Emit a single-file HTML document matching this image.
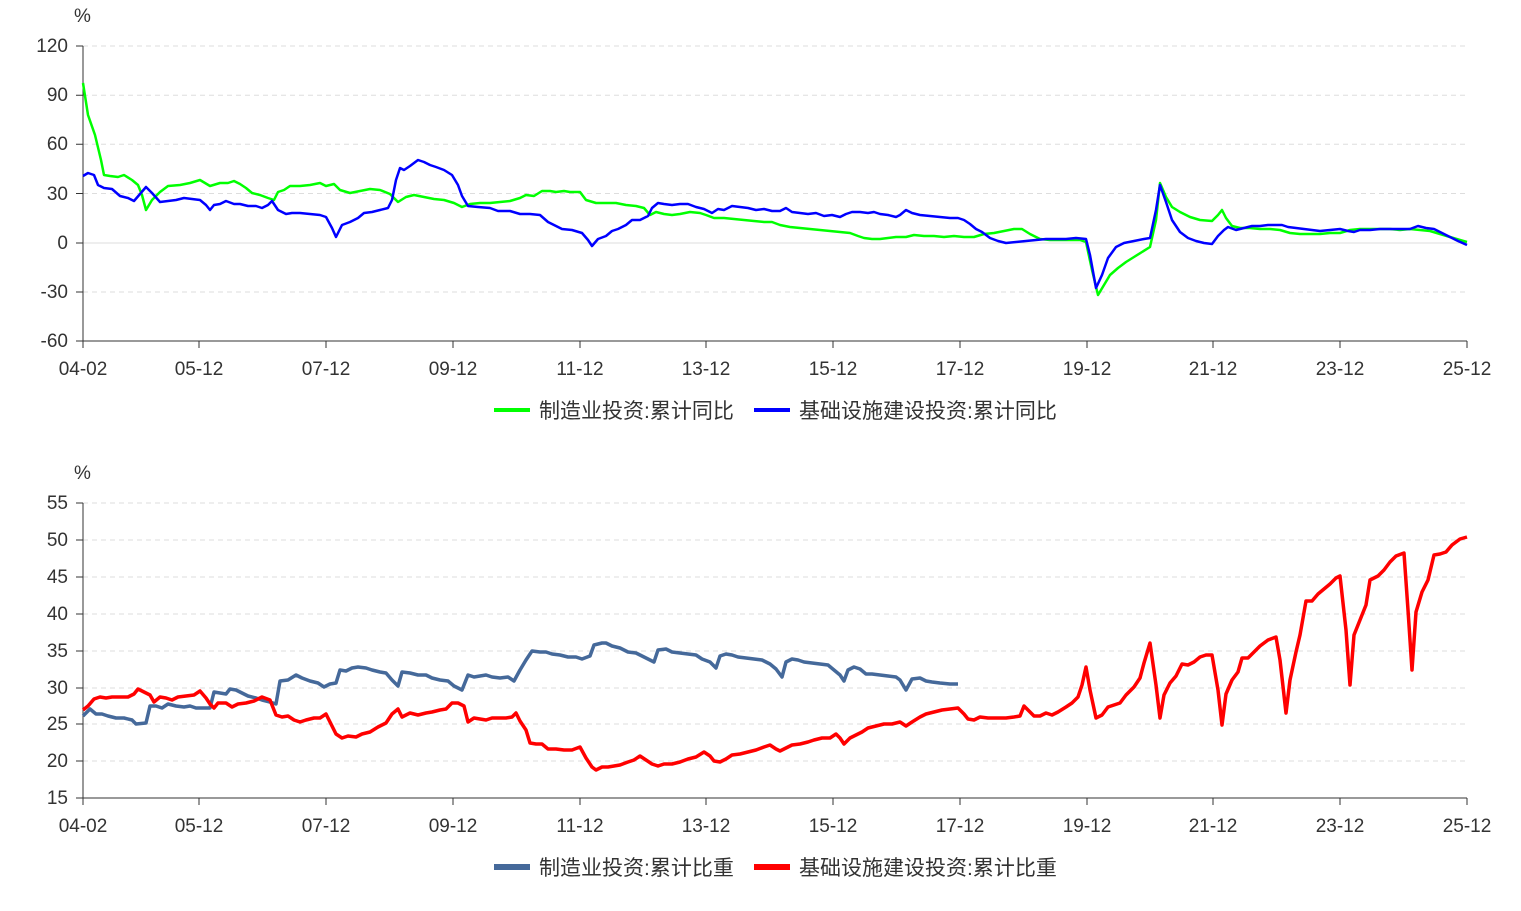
<!DOCTYPE html>
<html><head><meta charset="utf-8"><style>
body{margin:0;background:#fff}
svg text{font-family:"Liberation Sans","Noto Sans CJK SC",sans-serif;fill:#333}
</style></head><body>
<svg width="1521" height="906" viewBox="0 0 1521 906" xmlns="http://www.w3.org/2000/svg">
<g stroke="#ddd" stroke-dasharray="5,4" stroke-width="1">
<line x1="83" x2="1467" y1="46" y2="46"/><line x1="83" x2="1467" y1="95.2" y2="95.2"/><line x1="83" x2="1467" y1="144.3" y2="144.3"/><line x1="83" x2="1467" y1="193.5" y2="193.5"/><line x1="83" x2="1467" y1="292" y2="292"/>
<line x1="83" x2="1467" y1="503" y2="503"/><line x1="83" x2="1467" y1="540" y2="540"/><line x1="83" x2="1467" y1="577" y2="577"/><line x1="83" x2="1467" y1="614" y2="614"/><line x1="83" x2="1467" y1="651" y2="651"/><line x1="83" x2="1467" y1="688" y2="688"/><line x1="83" x2="1467" y1="724" y2="724"/><line x1="83" x2="1467" y1="761" y2="761"/>
</g>
<line x1="83" x2="1467" y1="243" y2="243" stroke="#ddd"/>
<g stroke="#333" stroke-width="1">
<line x1="83" x2="83" y1="46" y2="341"/><line x1="83" x2="1467" y1="341" y2="341"/>
<line x1="83" x2="83" y1="503" y2="798"/><line x1="83" x2="1467" y1="798" y2="798"/>
<path d="M76 46h7M76 95.2h7M76 144.3h7M76 193.5h7M76 243h7M76 292h7M76 341h7"/>
<path d="M76 503h7M76 540h7M76 577h7M76 614h7M76 651h7M76 688h7M76 724h7M76 761h7M76 798h7"/>
<path d="M83 341v7M199 341v7M326 341v7M453 341v7M580 341v7M706 341v7M833 341v7M960 341v7M1087 341v7M1213 341v7M1340 341v7M1467 341v7"/>
<path d="M83 798v7M199 798v7M326 798v7M453 798v7M580 798v7M706 798v7M833 798v7M960 798v7M1087 798v7M1213 798v7M1340 798v7M1467 798v7"/>
</g>
<g font-size="19" text-anchor="end">
<text x="68" y="52">120</text><text x="68" y="101">90</text><text x="68" y="150">60</text><text x="68" y="200">30</text><text x="68" y="249">0</text><text x="68" y="298">-30</text><text x="68" y="347">-60</text>
<text x="68" y="509">55</text><text x="68" y="546">50</text><text x="68" y="583">45</text><text x="68" y="620">40</text><text x="68" y="657">35</text><text x="68" y="694">30</text><text x="68" y="730">25</text><text x="68" y="767">20</text><text x="68" y="804">15</text>
</g>
<text x="74" y="22" font-size="19">%</text><text x="74" y="479" font-size="19">%</text>
<g font-size="19" text-anchor="middle">
<text x="83" y="375">04-02</text><text x="199" y="375">05-12</text><text x="326" y="375">07-12</text><text x="453" y="375">09-12</text><text x="580" y="375">11-12</text><text x="706" y="375">13-12</text><text x="833" y="375">15-12</text><text x="960" y="375">17-12</text><text x="1087" y="375">19-12</text><text x="1213" y="375">21-12</text><text x="1340" y="375">23-12</text><text x="1467" y="375">25-12</text>
<text x="83" y="832">04-02</text><text x="199" y="832">05-12</text><text x="326" y="832">07-12</text><text x="453" y="832">09-12</text><text x="580" y="832">11-12</text><text x="706" y="832">13-12</text><text x="833" y="832">15-12</text><text x="960" y="832">17-12</text><text x="1087" y="832">19-12</text><text x="1213" y="832">21-12</text><text x="1340" y="832">23-12</text><text x="1467" y="832">25-12</text>
</g>
<g fill="none" stroke-width="2.5" stroke-linejoin="round">
<polyline stroke="#00ff00" points="83,83 88,115 95,135 101,160 104,175 110,176 118,177 124,175 132,180 138,185 142,195 146,210 152,200 160,192 168,186 180,185 190,183 200,180 210,186 220,183 228,183 234,181 240,184 246,188 252,193 260,195 268,198 274,200 278,192 284,190 290,186 300,186 310,185 320,183 326,186 334,184 340,190 350,193 360,191 370,189 380,190 390,194 398,202 406,197 414,195 424,197 434,199 444,200 454,203 462,207 470,204 480,203 490,203 500,202 510,201 520,198 526,195 534,196 542,191 550,191 556,192 564,191 570,192 580,192 586,200 596,203 606,203 616,203 626,205 636,206 644,208 650,215 656,212 664,214 672,215 680,214 690,212 700,213 706,215 714,218 724,218 734,219 744,220 754,221 764,222 772,222 780,225 790,227 800,228 810,229 820,230 830,231 840,232 850,233 858,236 864,238 872,239 880,239 888,238 896,237 906,237 914,235 924,236 934,236 944,237 954,236 964,237 974,237 984,234 994,233 1004,231 1014,229 1022,229 1030,234 1040,239 1050,240 1060,240 1070,240 1080,240 1086,242 1092,270 1098,295 1104,285 1110,275 1118,268 1126,262 1134,257 1142,252 1150,247 1156,220 1160,183 1166,197 1172,207 1180,212 1190,217 1200,220 1212,221 1218,215 1222,210 1226,218 1232,226 1240,228 1250,228 1260,229 1270,229 1280,230 1290,233 1300,234 1310,234 1320,234 1330,233 1340,233 1350,230 1360,229 1370,229 1380,229 1390,229 1400,230 1410,229 1420,230 1430,231 1440,234 1450,237 1460,240 1467,242"/>
<polyline stroke="#0000ff" points="83,176 88,173 94,175 98,185 104,188 112,189 120,196 128,198 134,201 140,194 146,187 152,193 160,202 168,201 176,200 184,198 192,199 200,200 206,205 210,210 214,205 220,204 226,201 234,204 240,204 248,206 256,206 262,208 268,205 272,201 278,210 286,214 292,213 300,213 310,214 320,215 326,217 332,228 336,237 342,225 350,222 358,218 364,213 372,212 380,210 388,208 392,200 396,180 400,168 404,170 410,166 418,160 424,162 430,165 436,167 444,170 452,175 458,185 462,196 468,206 478,207 490,208 498,211 510,211 520,214 530,214 540,215 548,222 556,226 562,229 572,230 582,233 588,240 592,246 598,239 606,236 612,231 618,229 626,225 632,220 640,220 648,216 652,208 658,203 664,204 672,205 680,204 688,204 696,207 704,209 712,213 718,209 724,210 732,206 740,207 748,208 756,210 764,209 772,211 780,211 786,208 792,212 800,213 808,214 816,213 824,216 832,215 840,217 846,214 852,212 860,212 868,213 874,212 880,214 888,215 896,217 900,215 906,210 912,213 920,215 930,216 940,217 950,218 958,218 964,220 970,224 976,229 982,232 990,238 998,241 1006,243 1016,242 1026,241 1036,240 1046,239 1056,239 1066,239 1076,238 1086,239 1090,255 1096,288 1102,275 1108,258 1116,247 1124,243 1134,241 1144,239 1150,238 1156,210 1160,185 1166,202 1172,220 1180,232 1188,238 1196,241 1204,243 1212,244 1218,236 1224,230 1228,227 1236,230 1244,228 1252,226 1260,226 1268,225 1276,225 1282,225 1288,227 1296,228 1304,229 1312,230 1320,231 1330,230 1340,229 1348,231 1354,232 1360,230 1370,230 1380,229 1390,229 1400,229 1410,229 1418,226 1426,228 1434,229 1442,233 1450,237 1458,241 1467,245"/>
<polyline stroke="#45699a" stroke-width="3.5" points="83,716 90,709 96,714 102,714 108,716 116,718 124,718 132,720 136,724 146,723 150,706 156,706 162,708 168,704 176,706 184,707 190,706 196,708 204,708 210,708 214,692 220,693 226,694 230,689 236,690 240,692 248,696 256,698 262,700 270,702 276,704 280,681 288,680 296,675 302,678 310,681 318,683 324,687 330,684 336,683 340,670 346,671 352,668 358,667 366,668 372,670 380,672 386,673 392,680 398,686 402,672 410,673 418,675 426,675 432,678 440,680 448,681 454,686 462,690 468,675 474,677 480,676 486,675 492,677 500,678 508,677 514,681 520,670 526,660 532,651 540,652 546,652 552,654 560,655 568,657 576,657 582,659 590,656 594,645 602,643 606,643 612,646 620,648 628,652 636,653 646,658 654,662 658,650 666,649 672,652 680,653 688,654 696,655 702,659 710,662 716,668 720,656 726,654 732,655 738,657 746,658 754,659 762,660 770,664 776,669 782,677 786,662 792,659 798,660 804,662 812,663 820,664 828,665 834,670 840,675 844,681 848,670 854,667 860,669 866,674 872,674 880,675 888,676 896,677 900,680 906,690 912,679 920,678 926,681 932,682 940,683 950,684 958,684"/>
<polyline stroke="#ff0000" stroke-width="3.5" points="83,710 88,706 94,699 100,697 106,698 112,697 120,697 128,697 134,694 138,689 144,692 150,695 154,702 160,697 166,698 172,700 178,697 186,696 194,695 200,691 206,698 210,704 214,708 218,703 226,703 232,707 238,704 246,703 254,701 262,697 270,700 276,715 282,717 288,716 294,720 300,722 306,720 314,718 320,718 326,714 330,722 336,734 342,738 348,736 356,737 362,734 370,732 378,727 386,723 392,714 398,709 402,717 410,713 418,715 426,713 432,712 440,710 446,709 452,703 458,703 464,706 468,722 474,718 480,719 486,720 492,718 500,718 506,718 512,717 516,713 520,721 526,730 530,743 536,744 542,744 548,749 556,749 564,750 572,750 580,747 586,758 592,767 596,770 602,767 608,767 614,766 620,765 628,762 634,760 640,756 646,760 652,764 658,766 664,764 672,764 680,762 688,759 696,757 704,752 710,756 714,761 720,762 726,759 732,755 740,754 748,752 756,750 764,747 770,745 776,749 780,751 786,748 792,745 800,744 808,742 814,740 822,738 830,738 836,734 840,738 844,744 850,738 856,735 862,732 868,728 876,726 884,724 892,724 900,722 906,726 912,722 920,717 926,714 934,712 942,710 950,709 958,708 964,714 968,719 974,720 980,717 988,718 996,718 1006,718 1014,717 1020,716 1024,706 1028,710 1034,716 1040,716 1046,713 1052,715 1058,712 1066,707 1072,703 1078,697 1082,685 1086,667 1090,690 1096,718 1102,715 1108,707 1114,705 1120,703 1126,695 1134,687 1140,678 1144,663 1150,643 1156,685 1160,718 1164,695 1170,683 1176,676 1182,664 1188,665 1194,662 1200,657 1206,655 1212,655 1218,690 1222,725 1226,694 1232,680 1238,672 1242,658 1248,658 1254,652 1260,646 1268,640 1276,637 1280,660 1286,713 1290,680 1296,652 1300,635 1306,601 1312,601 1318,594 1324,589 1330,584 1336,578 1340,576 1346,630 1350,685 1354,635 1360,620 1366,605 1370,580 1378,576 1384,570 1390,562 1396,556 1404,553 1408,610 1412,670 1416,612 1422,592 1428,580 1434,555 1440,554 1446,552 1452,545 1460,539 1467,537"/>
</g>
<g font-size="21">
<line x1="494" x2="530" y1="410" y2="410" stroke="#00ff00" stroke-width="4"/><text x="539" y="418">制造业投资:累计同比</text>
<line x1="754" x2="790" y1="410" y2="410" stroke="#0000ff" stroke-width="4"/><text x="799" y="418">基础设施建设投资:累计同比</text>
<line x1="494" x2="530" y1="867" y2="867" stroke="#45699a" stroke-width="6"/><text x="539" y="875">制造业投资:累计比重</text>
<line x1="754" x2="790" y1="867" y2="867" stroke="#ff0000" stroke-width="6"/><text x="799" y="875">基础设施建设投资:累计比重</text>
</g>
</svg>
</body></html>
